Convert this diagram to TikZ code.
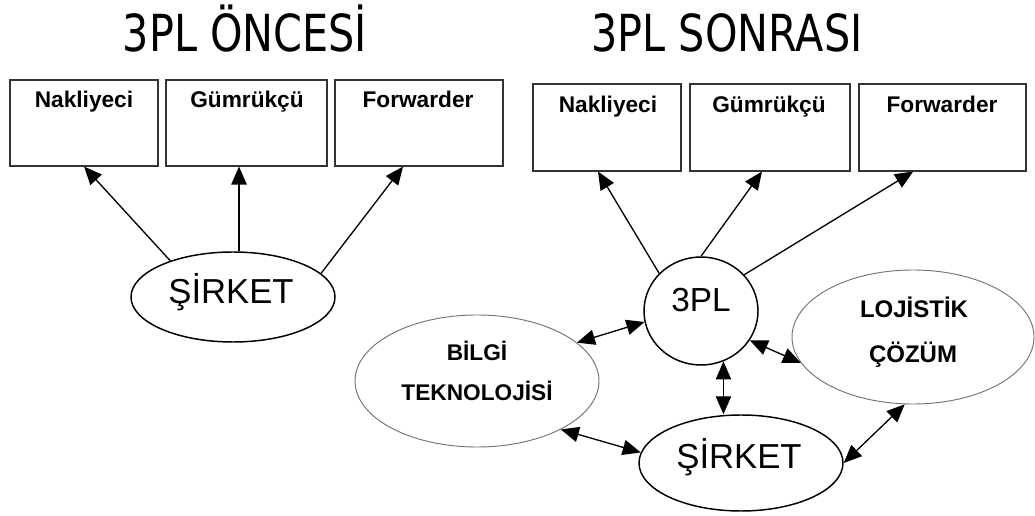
\documentclass[tikz,border=0pt]{standalone}
\usepackage{fontspec}
\setmainfont{Liberation Sans}
\newfontfamily\titlefont{DejaVu Sans}[FakeStretch=0.81]
\usetikzlibrary{arrows.meta,shapes.geometric}
\begin{document}
\begin{tikzpicture}[x=0.75pt,y=-0.75pt,
  box/.style={draw=black!80,line width=0.8pt,rectangle,inner sep=0pt},
  lbl/.style={anchor=base,inner sep=0pt,font=\fontsize{17}{18}\selectfont\bfseries},
  lblb/.style={anchor=base,inner sep=0pt,font=\fontsize{18}{20}\selectfont\bfseries},
  ttl/.style={anchor=base,inner sep=0pt,font=\titlefont\fontsize{38.3}{40}\selectfont},
  big/.style={anchor=base,inner sep=0pt,font=\fontsize{26}{28}\selectfont},
  firm/.style={ellipse,draw=black,line width=1.1pt,inner sep=0pt},
  soft/.style={ellipse,draw=black!55,line width=0.7pt,inner sep=0pt},
  tip/.tip={Triangle[length=13.5pt,width=11.5pt]},
  arr/.style={line width=1pt,-tip},
  darr/.style={line width=1pt,tip-tip},
]
\fill[white] (0,0) rectangle (1035,516);
\useasboundingbox (0,0) rectangle (1035,516);

% headings
\node[ttl] (h1) at (245,52) {3PL ÖNCESİ};
\node[ttl] (h2) at (727,52) {3PL SONRASI};

% before: service providers
\node[box,minimum width=111pt,minimum height=64.5pt] (b1) at (84,123) {};
\node[box,minimum width=120.75pt,minimum height=64.5pt] (b2) at (246.5,123) {};
\node[box,minimum width=126pt,minimum height=64.5pt] (b3) at (419,123) {};
\node[lbl] (b1t) at (84,108) {Nakliyeci};
\node[lbl] (b2t) at (247,108) {Gümrükçü};
\node[lbl] (b3t) at (418,108) {Forwarder};

% before: company
\node[firm,minimum width=153pt,minimum height=67.5pt] (sL) at (233,297) {};
\node[big] (sLt) at (231,304) {ŞİRKET};

\draw[arr] (sL.150) -- (b1.south);
\draw[arr] ([xshift=4.5pt]sL.north) -- ([xshift=4.5pt]sL.north |- b2.south);
\draw[arr] (sL.15) -- ([xshift=-12pt]b3.south);

% after: service providers
\node[box,minimum width=111pt,minimum height=65.25pt] (rb1) at (607,127.5) {};
\node[box,minimum width=120pt,minimum height=65.25pt] (rb2) at (770,127.5) {};
\node[box,minimum width=125.25pt,minimum height=65.25pt] (rb3) at (942.5,127.5) {};
\node[lbl] (rb1t) at (608,113) {Nakliyeci};
\node[lbl] (rb2t) at (769,113) {Gümrükçü};
\node[lbl] (rb3t) at (942,113) {Forwarder};

% after: 3PL, company, IT and logistics solution
\node[firm,minimum width=85.5pt,minimum height=81pt] (P) at (701,311) {};
\node[big,font=\fontsize{25}{27}\selectfont] (Pt) at (701,312) {3PL};
\node[firm,minimum width=153pt,minimum height=72pt] (S) at (741,463) {};
\node[big] (St) at (739,468) {ŞİRKET};
\node[soft,minimum width=183pt,minimum height=99pt] (B) at (477,381) {};
\node[lbl] (Bt1) at (477,361) {BİLGİ};
\node[lbl] (Bt2) at (477,401) {TEKNOLOJİSİ};
\node[soft,minimum width=181.5pt,minimum height=100.5pt] (L) at (913,337) {};
\node[lblb] (Lt1) at (914,318) {LOJİSTİK};
\node[lblb] (Lt2) at (913,363) {ÇÖZÜM};

\draw[arr] (P.138) -- ([xshift=-6.75pt]rb1.south);
\draw[arr] (P.north) -- ([xshift=-6pt]rb2.south);
\draw[arr] (P.40) -- ([xshift=-22pt]rb3.south);

\draw[darr] (B.21) -- (P.191);
\draw[darr] (B.330) -- (S.174);
\draw[darr] (P.294) -- (P.294 |- S.north);
\draw[darr] (P.329) -- (L.193);
\draw[darr] (S.east) -- (L.263);
\end{tikzpicture}
\end{document}
